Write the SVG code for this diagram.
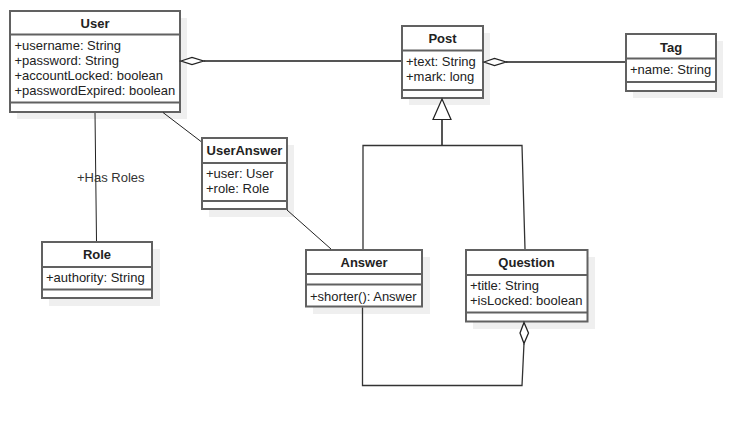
<svg xmlns="http://www.w3.org/2000/svg" width="756" height="427" viewBox="0 0 756 427">
<style>
.shadow{fill:#efefef;stroke:none}
.box{fill:#ffffff;stroke:#616161;stroke-width:2}
.sep{stroke:#616161;stroke-width:2}
.title{font-family:"Liberation Sans",Arial,sans-serif;font-size:13px;font-weight:bold;fill:#222;text-anchor:middle}
.attr{font-family:"Liberation Sans",Arial,sans-serif;font-size:13px;fill:#222}
.lbl{font-family:"Liberation Sans",Arial,sans-serif;font-size:13px;fill:#333}
.thin{fill:none;stroke:#222;stroke-width:1}
.mid{fill:none;stroke:#333;stroke-width:1.3}
.thick{fill:none;stroke:#555;stroke-width:2}
.diamond{fill:#fff;stroke:#222;stroke-width:1.3}
</style>
<rect width="756" height="427" fill="#fff"/>
<g id="User">
  <rect class="shadow" x="17" y="18" width="170" height="101"/>
  <rect class="box" x="10" y="11" width="170" height="101"/>
  <line class="sep" x1="10" y1="34.5" x2="180" y2="34.5"/>
  <line class="sep" x1="10" y1="102.5" x2="180" y2="102.5"/>
  <text class="title" x="95" y="28">User</text>
  <text class="attr" x="14.5" y="49.5">+username: String</text>
  <text class="attr" x="14.5" y="65">+password: String</text>
  <text class="attr" x="14.5" y="80">+accountLocked: boolean</text>
  <text class="attr" x="14.5" y="95">+passwordExpired: boolean</text>
</g>
<g id="Post">
  <rect class="shadow" x="409" y="33" width="81" height="72"/>
  <rect class="box" x="402" y="26" width="81" height="72"/>
  <line class="sep" x1="402" y1="50.5" x2="483" y2="50.5"/>
  <line class="sep" x1="402" y1="90" x2="483" y2="90"/>
  <text class="title" x="442.5" y="43">Post</text>
  <text class="attr" x="406" y="66">+text: String</text>
  <text class="attr" x="406" y="81">+mark: long</text>
</g>
<g id="Tag">
  <rect class="shadow" x="633" y="41" width="90" height="57"/>
  <rect class="box" x="626" y="34" width="90" height="57"/>
  <line class="sep" x1="626" y1="58.5" x2="716" y2="58.5"/>
  <line class="sep" x1="626" y1="82" x2="716" y2="82"/>
  <text class="title" x="671" y="52">Tag</text>
  <text class="attr" x="630" y="74">+name: String</text>
</g>
<g id="UserAnswer">
  <rect class="shadow" x="209" y="145" width="85" height="72"/>
  <rect class="box" x="202" y="138" width="85" height="71"/>
  <line class="sep" x1="202" y1="163" x2="287" y2="163"/>
  <line class="sep" x1="202" y1="201" x2="287" y2="201"/>
  <text class="title" x="244.5" y="155">UserAnswer</text>
  <text class="attr" x="206" y="178">+user: User</text>
  <text class="attr" x="206" y="193">+role: Role</text>
</g>
<g id="Role">
  <rect class="shadow" x="49" y="249" width="111" height="57"/>
  <rect class="box" x="42" y="242" width="110" height="56"/>
  <line class="sep" x1="42" y1="267" x2="152" y2="267"/>
  <line class="sep" x1="42" y1="289.5" x2="152" y2="289.5"/>
  <text class="title" x="97" y="258.5">Role</text>
  <text class="attr" x="46" y="282">+authority: String</text>
</g>
<g id="Answer">
  <rect class="shadow" x="313" y="257" width="117" height="57"/>
  <rect class="box" x="306" y="250" width="116" height="56.5"/>
  <line class="sep" x1="306" y1="274" x2="422" y2="274"/>
  <line class="sep" x1="306" y1="284.5" x2="422" y2="284.5"/>
  <text class="title" x="364" y="267">Answer</text>
  <text class="attr" x="310" y="300.5">+shorter(): Answer</text>
</g>
<g id="Question">
  <rect class="shadow" x="473" y="257" width="122" height="72"/>
  <rect class="box" x="466" y="250" width="121.5" height="71.5"/>
  <line class="sep" x1="466" y1="275" x2="587.5" y2="275"/>
  <line class="sep" x1="466" y1="312.5" x2="587.5" y2="312.5"/>
  <text class="title" x="526.5" y="267">Question</text>
  <text class="attr" x="470" y="289.5">+title: String</text>
  <text class="attr" x="470" y="305">+isLocked: boolean</text>
</g>
<g id="connectors">
  <line class="thick" x1="203.5" y1="61" x2="401" y2="61"/>
  <polygon class="diamond" points="181,61 192,57.5 203.5,61 192,64.5"/>
  <line class="thick" x1="506" y1="62" x2="625" y2="62"/>
  <polygon class="diamond" points="484,62 494.5,58.5 506,62 494.5,65.5"/>
  <polyline class="thick" points="442,119.5 442,145.5"/>
  <polyline class="mid" points="363,249 363,145.5 522,145.5 525,249"/>
  <polygon fill="#fff" stroke="#222" stroke-width="1.2" points="442,99 433,119.5 451,119.5"/>
  <line class="thin" x1="95" y1="113" x2="96.5" y2="241"/>
  <text class="lbl" x="77" y="182">+Has Roles</text>
  <line class="thin" x1="163" y1="112.5" x2="201" y2="141.5"/>
  <line class="thin" x1="287" y1="210" x2="331" y2="249"/>
  <polyline class="mid" points="524,343.5 522,385.5 362.5,385.5 362.5,307.5"/>
  <polygon class="diamond" points="524,322.5 520,333 524,343.5 528.5,333"/>
</g>
</svg>
